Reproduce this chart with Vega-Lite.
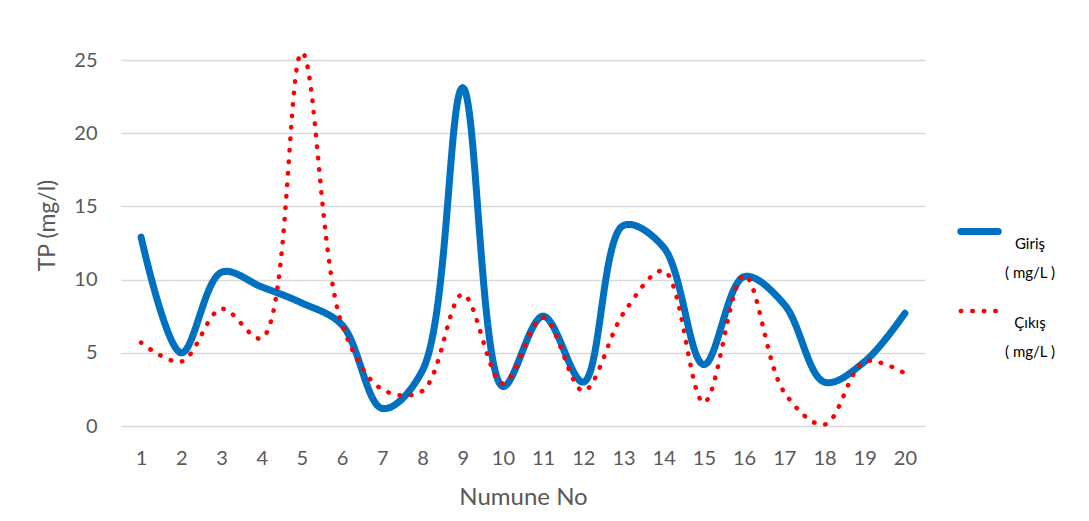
{
  "$schema": "https://vega.github.io/schema/vega-lite/v6.json",
  "width": 804,
  "height": 366,
  "autosize": {"type": "none"},
  "padding": {"left": 121, "top": 60, "right": 164, "bottom": 95},
  "background": "white",
  "config": {
    "view": {"stroke": null},
    "font": "Lato",
    "axis": {"labelColor": "#595959", "titleColor": "#595959", "labelFont": "Lato", "titleFont": "Lato", "titleFontWeight": "normal"}
  },
  "data": {
    "values": [
      {"no": 1, "series": "Giriş", "value": 12.9},
      {"no": 2, "series": "Giriş", "value": 5.0},
      {"no": 3, "series": "Giriş", "value": 10.5},
      {"no": 4, "series": "Giriş", "value": 9.5},
      {"no": 5, "series": "Giriş", "value": 8.4},
      {"no": 6, "series": "Giriş", "value": 6.9},
      {"no": 7, "series": "Giriş", "value": 1.2},
      {"no": 8, "series": "Giriş", "value": 3.8},
      {"no": 9, "series": "Giriş", "value": 23.1},
      {"no": 10, "series": "Giriş", "value": 2.7},
      {"no": 11, "series": "Giriş", "value": 7.5},
      {"no": 12, "series": "Giriş", "value": 3.0},
      {"no": 13, "series": "Giriş", "value": 13.7},
      {"no": 14, "series": "Giriş", "value": 12.2},
      {"no": 15, "series": "Giriş", "value": 4.2},
      {"no": 16, "series": "Giriş", "value": 10.2},
      {"no": 17, "series": "Giriş", "value": 8.3},
      {"no": 18, "series": "Giriş", "value": 3.0},
      {"no": 19, "series": "Giriş", "value": 4.4},
      {"no": 20, "series": "Giriş", "value": 7.7},
      {"no": 1, "series": "Çıkış", "value": 5.7},
      {"no": 2, "series": "Çıkış", "value": 4.4},
      {"no": 3, "series": "Çıkış", "value": 8.0},
      {"no": 4, "series": "Çıkış", "value": 6.0},
      {"no": 5, "series": "Çıkış", "value": 25.5},
      {"no": 6, "series": "Çıkış", "value": 6.9},
      {"no": 7, "series": "Çıkış", "value": 2.5},
      {"no": 8, "series": "Çıkış", "value": 2.4},
      {"no": 9, "series": "Çıkış", "value": 9.0},
      {"no": 10, "series": "Çıkış", "value": 2.9},
      {"no": 11, "series": "Çıkış", "value": 7.4},
      {"no": 12, "series": "Çıkış", "value": 2.4},
      {"no": 13, "series": "Çıkış", "value": 7.7},
      {"no": 14, "series": "Çıkış", "value": 10.6},
      {"no": 15, "series": "Çıkış", "value": 1.6},
      {"no": 16, "series": "Çıkış", "value": 10.3},
      {"no": 17, "series": "Çıkış", "value": 2.3},
      {"no": 18, "series": "Çıkış", "value": 0.1},
      {"no": 19, "series": "Çıkış", "value": 4.4},
      {"no": 20, "series": "Çıkış", "value": 3.6}
    ]
  },
  "mark": {"type": "line", "interpolate": "catmull-rom", "strokeCap": "round", "strokeJoin": "round"},
  "encoding": {
    "x": {
      "field": "no", "type": "ordinal",
      "scale": {"type": "point", "padding": 0.5},
      "axis": {"title": "Numune No", "labelAngle": 0, "labelFontSize": 20, "titleFontSize": 24, "domain": false, "ticks": false, "labelPadding": 22, "titlePadding": 17}
    },
    "y": {
      "field": "value", "type": "quantitative",
      "scale": {"domain": [0, 25], "nice": false},
      "axis": {"title": "TP (mg/l)", "values": [0, 5, 10, 15, 20, 25], "labelFontSize": 20, "titleFontSize": 23, "domain": false, "ticks": false, "labelPadding": 24, "titleX": -74, "titleY": 165, "titleBaseline": "middle", "titleAlign": "center", "titleAngle": -90, "gridColor": "#D9D9D9", "gridWidth": 1.5}
    },
    "detail": {"field": "series"},
    "color": {
      "field": "series", "type": "nominal",
      "scale": {"domain": ["Giriş", "Çıkış"], "range": ["#0070C0", "#FF0000"]},
      "legend": {
        "title": null, "orient": "none", "legendX": 836, "legendY": 149,
        "symbolType": "stroke", "symbolSize": 1400, "symbolStrokeWidth": 4.5,
        "labelFontSize": 15, "labelColor": "#000000", "labelAlign": "center", "labelBaseline": "top", "labelOffset": 28,
        "rowPadding": 9,
        "labelExpr": "[datum.label, '( mg/L )']",
        "encode": {
          "symbols": {"update": {"strokeCap": {"value": "round"}}},
          "labels": {"update": {"lineHeight": {"value": 29}, "dy": {"value": 5}}}
        }
      }
    },
    "strokeDash": {
      "field": "series", "type": "nominal",
      "scale": {"domain": ["Giriş", "Çıkış"], "range": [[1, 0], [0.5, 11]]},
      "legend": null
    },
    "strokeWidth": {
      "field": "series", "type": "nominal",
      "scale": {"domain": ["Giriş", "Çıkış"], "range": [7, 4.5]},
      "legend": null
    }
  }
}
